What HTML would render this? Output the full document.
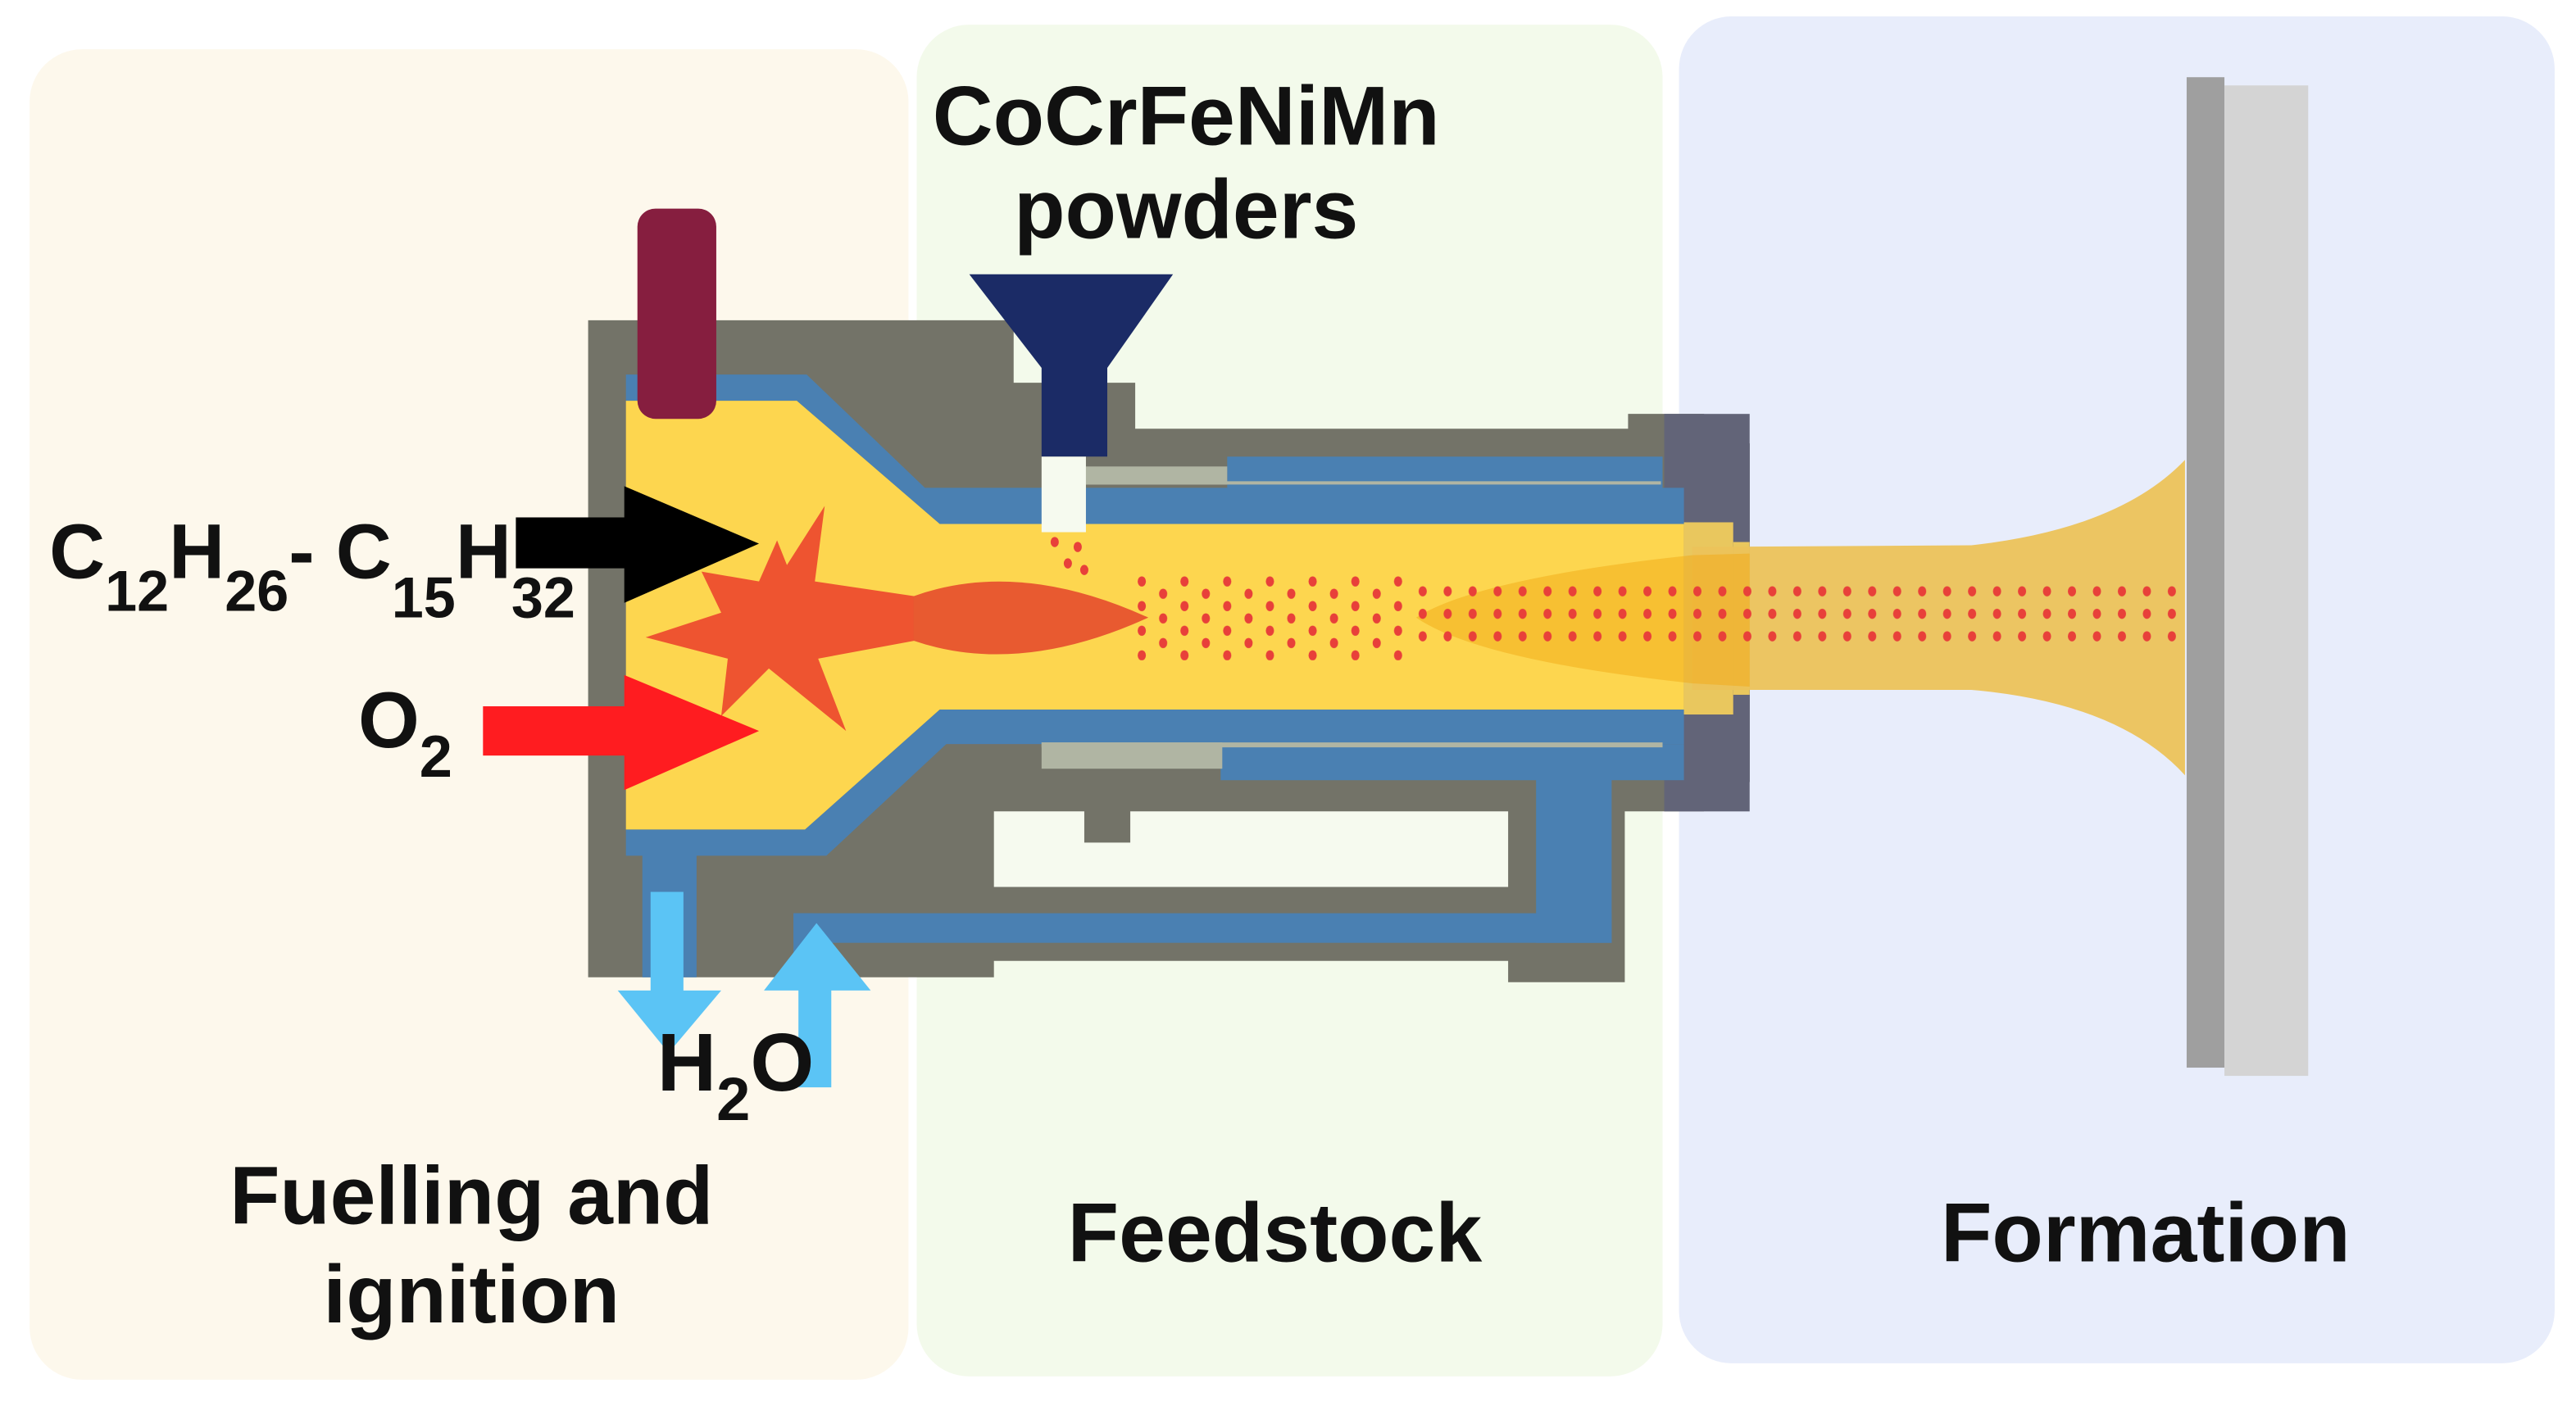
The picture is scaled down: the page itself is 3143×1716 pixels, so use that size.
<!DOCTYPE html>
<html><head><meta charset="utf-8"><style>
html,body{margin:0;padding:0;background:#fff;}
svg{display:block;}
text{font-family:"Liberation Sans",sans-serif;font-weight:bold;fill:#111;}
</style></head><body>
<svg width="3143" height="1716" viewBox="0 0 1568 856" preserveAspectRatio="none" xmlns="http://www.w3.org/2000/svg">
<defs>
<pattern id="rows" x="862" y="355" width="15.2" height="13.7" patternUnits="userSpaceOnUse">
<ellipse cx="4" cy="5" rx="2.5" ry="3.1" fill="#e8403a"/>
</pattern>
<pattern id="scat" x="690" y="350" width="26" height="15" patternUnits="userSpaceOnUse">
<ellipse cx="5" cy="4" rx="2.5" ry="3.1" fill="#e8403a"/>
<ellipse cx="18" cy="11.5" rx="2.5" ry="3.1" fill="#e8403a"/>
</pattern>
</defs>
<rect width="1568" height="856" fill="#ffffff"/>
<!-- panels -->
<rect x="18" y="30" width="535" height="810" rx="32" fill="#fdf8ec"/>
<rect x="558" y="15" width="454" height="823" rx="32" fill="#f3faeb"/>
<rect x="1022" y="10" width="533" height="820" rx="32" fill="#e8edfb"/>

<!-- gray body -->
<path d="M358,195 L617,195 L617,233 L691,233 L691,261 L991,261 L991,252 L1037,252 L1065,270 L1065,476 L1037,494 L989,494 L989,598 L918,598 L918,585 L605,585 L605,595 L358,595 Z" fill="#737368"/>
<rect x="1013" y="252" width="52" height="242" fill="#626478"/>
<path d="M1037,252 L1065,270 L1065,476 L1037,494 Z" fill="#626478"/>
<!-- white cut-out -->
<path d="M605,494 L660,494 L660,513 L688,513 L688,494 L918,494 L918,540 L605,540 Z" fill="#f6faef"/>

<!-- blue linings -->
<path d="M381,228 L491,228 L563,297 L1025,297 L1025,319 L572,319 L485,244 L381,244 Z" fill="#4a80b2"/>
<rect x="747" y="278" width="265" height="20" fill="#4a80b2"/>
<rect x="661" y="284" width="86" height="11" fill="#b0b5a3"/>
<rect x="661" y="293" width="350" height="2" fill="#b0b5a3"/>
<path d="M381,505 L490,505 L572,432 L1025,432 L1025,453 L576,453 L503,521 L381,521 Z" fill="#4a80b2"/>
<rect x="743" y="453" width="282" height="22" fill="#4a80b2"/>
<rect x="634" y="452" width="110" height="16" fill="#b0b5a3"/>
<rect x="634" y="452" width="378" height="3" fill="#b0b5a3"/>
<rect x="935" y="470" width="46" height="104" fill="#4a80b2"/>
<rect x="483" y="556" width="498" height="18" fill="#4a80b2"/>
<rect x="483" y="556" width="12" height="30" fill="#4a80b2"/>
<rect x="391" y="515" width="33" height="80" fill="#4a80b2"/>

<!-- yellow chamber -->
<path d="M381,244 L485,244 L572,319 L1025,319 L1025,432 L572,432 L490,505 L381,505 Z" fill="#fdd64f"/>
<rect x="1025" y="318" width="30" height="117" fill="#e9c75e"/>
<rect x="1055" y="330" width="10" height="93" fill="#e9c75e"/>

<!-- funnel -->
<path d="M590,167 L714,167 L674,224 L674,278 L634,278 L634,224 Z" fill="#1b2b66"/>
<rect x="634" y="278" width="27" height="46" fill="#f6faef"/>

<!-- igniter -->
<rect x="388" y="127" width="48" height="128" rx="11" fill="#861e3f"/>

<!-- plume -->
<path d="M1030,333 L1200,332 Q1290,322 1330,280 L1330,472 Q1290,428 1200,420 L1030,420 Z" fill="#ecc35a" opacity="0.95"/>
<path d="M862,376 Q900,352 1030,338 L1065,337 L1065,418 L1030,416 Q900,402 862,376 Z" fill="#f2a916" opacity="0.5"/>

<!-- star -->
<polygon points="393,388 439,373 427,348 462,354 473,329 479,344 502,308 496,354 557,363 557,390 498,401 515,445 468,407 439,436 443,401" fill="#ee5430"/>
<path d="M556,363 Q620,340 699,376 Q620,412 556,390 Z" fill="#e85a30"/>

<!-- arrows -->
<rect x="314" y="315" width="68" height="31" fill="#000"/>
<polygon points="380,296 462,331 380,367" fill="#000"/>
<rect x="294" y="430" width="88" height="30" fill="#ff1c20"/>
<polygon points="380,411 462,445 380,481" fill="#ff1c20"/>
<rect x="396" y="543" width="20" height="62" fill="#5bc4f5"/>
<polygon points="376,603 439,603 407,641" fill="#5bc4f5"/>
<rect x="486" y="600" width="20" height="62" fill="#5bc4f5"/>
<polygon points="465,603 530,603 497,562" fill="#5bc4f5"/>

<!-- dots -->
<rect x="688" y="350" width="172" height="52" fill="url(#scat)"/>
<ellipse cx="642" cy="330" rx="2.5" ry="3.1" fill="#e8403a"/>
<ellipse cx="656" cy="333" rx="2.5" ry="3.1" fill="#e8403a"/>
<ellipse cx="650" cy="343" rx="2.5" ry="3.1" fill="#e8403a"/>
<ellipse cx="660" cy="347" rx="2.5" ry="3.1" fill="#e8403a"/>
<rect x="862" y="355" width="466" height="40" fill="url(#rows)"/>

<!-- substrate -->
<rect x="1331" y="47" width="23" height="603" fill="#9f9f9f"/>
<rect x="1354" y="52" width="51" height="603" fill="#d4d4d4"/>

<!-- labels -->
<text x="722" y="88" font-size="51" text-anchor="middle">CoCrFeNiMn</text>
<text x="722" y="145" font-size="51" text-anchor="middle">powders</text>
<text x="30" y="352" font-size="47">C<tspan font-size="35" dy="20">12</tspan><tspan dy="-20">H</tspan><tspan font-size="35" dy="20">26</tspan><tspan dy="-20">- C</tspan><tspan font-size="35" dy="24">15</tspan><tspan dy="-24">H</tspan><tspan font-size="35" dy="24">32</tspan></text>
<text x="218" y="455" font-size="48">O<tspan font-size="36" dy="18">2</tspan></text>
<text x="400" y="664" font-size="50">H<tspan font-size="37" dy="18">2</tspan><tspan dy="-18">O</tspan></text>
<text x="287" y="745" font-size="50" text-anchor="middle">Fuelling and</text>
<text x="287" y="805" font-size="50" text-anchor="middle">ignition</text>
<text x="776" y="768" font-size="51" text-anchor="middle">Feedstock</text>
<text x="1306" y="768" font-size="51" text-anchor="middle">Formation</text>
</svg>
</body></html>
